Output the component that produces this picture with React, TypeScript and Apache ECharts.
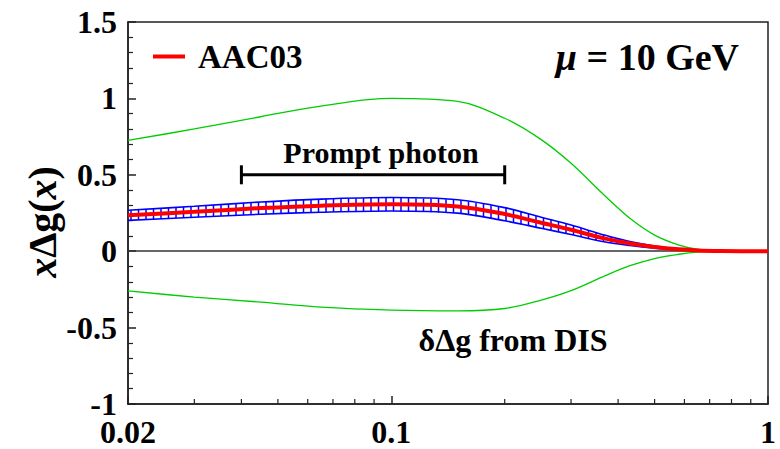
import React, { useEffect, useRef } from "react";
import * as echarts from "echarts";

const xValues = [0.02, 0.03, 0.045, 0.065, 0.1, 0.15, 0.2, 0.25, 0.3, 0.37, 0.43, 0.5, 0.58, 0.65, 0.75, 0.85, 1];
const aac03 = [0.235, 0.258, 0.282, 0.298, 0.307, 0.293, 0.243, 0.186, 0.14, 0.082, 0.05, 0.027, 0.012, 0.005, 0.001, 0, 0];
const bandUpper = [0.268, 0.294, 0.322, 0.341, 0.351, 0.337, 0.285, 0.222, 0.171, 0.104, 0.063, 0.034, 0.015, 0.006, 0.001, 0, 0];
const bandLower = [0.202, 0.222, 0.242, 0.255, 0.263, 0.249, 0.199, 0.15, 0.109, 0.06, 0.037, 0.02, 0.009, 0.004, 0.001, 0, 0];
const disUpper = [0.725, 0.8, 0.88, 0.95, 1.0, 0.98, 0.87, 0.73, 0.575, 0.36, 0.215, 0.105, 0.04, 0.014, 0.003, 0, 0];
const disLower = [-0.26, -0.3, -0.333, -0.366, -0.385, -0.39, -0.375, -0.32, -0.258, -0.16, -0.095, -0.048, -0.02, -0.006, -0.001, 0, 0];
const promptRange = [0.04, 0.2];
const promptLevel = 0.5;
const xMinorTicks = [0.03, 0.04, 0.05, 0.06, 0.07, 0.08, 0.09, 0.2, 0.3, 0.4, 0.5, 0.6, 0.7, 0.8, 0.9];

const FONT = "Liberation Serif";

export default function App() {
  const ref = useRef<HTMLDivElement>(null);
  useEffect(() => {
    if (!ref.current) return;
    const chart = echarts.init(ref.current, null, { renderer: "svg" });
    const pair = (ys: number[]) => xValues.map((x, i) => [x, ys[i]]);
    const bandData = xValues.map((x, i) => [x, bandLower[i], bandUpper[i]]);
    const HATCH = 7.5;
    const GRID_LEFT = 128;

    const option: any = {
      animation: false,
      backgroundColor: "#fff",
      grid: {
        left: 128,
        right: 12,
        top: 22,
        bottom: 45,
        show: true,
        borderColor: "#222",
        borderWidth: 1.5,
        containLabel: false,
      },
      legend: {
        data: ["AAC03"],
        left: 148,
        top: 35,
        icon: "rect",
        itemWidth: 32,
        itemHeight: 4,
        textStyle: {
          fontFamily: FONT,
          fontWeight: "bold",
          fontSize: 33,
          color: "#000",
          padding: [0, 0, 0, 8],
        },
      },
      xAxis: {
        type: "log",
        logBase: 10,
        min: 0.02,
        max: 1,
        axisLine: { onZero: false, lineStyle: { color: "#222", width: 1.5 } },
        axisTick: { inside: true, length: 8, lineStyle: { color: "#222", width: 1.5 } },
        axisLabel: {
          fontFamily: FONT,
          fontWeight: "bold",
          fontSize: 32,
          color: "#000",
          margin: 12,
          formatter: (v: number) => String(parseFloat(v.toPrecision(6))),
        },
        splitLine: { show: false },
      },
      yAxis: {
        type: "value",
        min: -1,
        max: 1.5,
        interval: 0.5,
        axisLine: { show: true, onZero: false, lineStyle: { color: "#222", width: 1.5 } },
        axisTick: { inside: true, length: 8, lineStyle: { color: "#222", width: 1.5 } },
        minorTick: { show: true, splitNumber: 5, length: 5, lineStyle: { color: "#222", width: 1.2 } },
        axisLabel: {
          fontFamily: FONT,
          fontWeight: "bold",
          fontSize: 32,
          color: "#000",
          margin: 11,
        },
        splitLine: { show: false },
      },
      graphic: [
        {
          type: "text",
          x: 42,
          y: 222,
          rotation: Math.PI / 2,
          style: {
            text: "{i|x}Δg({i|x})",
            fontFamily: FONT,
            fontWeight: "bold",
            fontSize: 40,
            fill: "#000",
            align: "center",
            verticalAlign: "middle",
            rich: {
              i: { fontFamily: FONT, fontWeight: "bold", fontStyle: "italic", fontSize: 40, fill: "#000" },
            },
          },
        },
        {
          type: "text",
          right: 41,
          top: 38,
          style: {
            text: "{i|μ} = 10 GeV",
            fontFamily: FONT,
            fontWeight: "bold",
            fontSize: 38,
            fill: "#000",
            rich: {
              i: { fontFamily: FONT, fontWeight: "bold", fontStyle: "italic", fontSize: 38, fill: "#000" },
            },
          },
        },
        {
          type: "text",
          x: 381,
          y: 152,
          style: {
            text: "Prompt photon",
            fontFamily: FONT,
            fontWeight: "bold",
            fontSize: 30,
            fill: "#000",
            align: "center",
            verticalAlign: "middle",
          },
        },
        {
          type: "text",
          x: 513,
          y: 340,
          style: {
            text: "δΔg from DIS",
            fontFamily: FONT,
            fontWeight: "bold",
            fontSize: 32,
            fill: "#000",
            align: "center",
            verticalAlign: "middle",
          },
        },
      ],
      series: [
        {
          name: "DIS lower",
          type: "line",
          data: pair(disLower),
          smooth: 0.35,
          showSymbol: false,
          lineStyle: { color: "#00cc00", width: 1.3 },
          z: 2,
          markLine: {
            silent: true,
            symbol: "none",
            label: { show: false },
            lineStyle: { color: "#333", width: 1.5, type: "solid" },
            data: [{ yAxis: 0 }],
          },
        },
        {
          name: "DIS upper",
          type: "line",
          data: pair(disUpper),
          smooth: 0.35,
          showSymbol: false,
          lineStyle: { color: "#00cc00", width: 1.3 },
          z: 2,
        },
        {
          name: "band hatch",
          type: "custom",
          data: bandData,
          z: 3,
          renderItem: (params: any, api: any) => {
            const i = params.dataIndex;
            if (i >= bandData.length - 1) return null;
            const nx = bandData[i + 1];
            const p0 = api.coord([api.value(0), api.value(2)]);
            const q0 = api.coord([api.value(0), api.value(1)]);
            const p1 = api.coord([nx[0], nx[2]]);
            const q1 = api.coord([nx[0], nx[1]]);
            const children: any[] = [];
            let k = Math.ceil((p0[0] - GRID_LEFT - 3) / HATCH);
            for (;; k++) {
              const px = GRID_LEFT + 3 + k * HATCH;
              if (px >= p1[0]) break;
              if (px < p0[0]) continue;
              const t = (px - p0[0]) / (p1[0] - p0[0]);
              const yt = p0[1] + (p1[1] - p0[1]) * t;
              const yb = q0[1] + (q1[1] - q0[1]) * t;
              if (yb - yt < 2.5) continue;
              children.push({
                type: "line",
                shape: { x1: px, y1: yt, x2: px, y2: yb },
                style: { stroke: "#0000ff", lineWidth: 1.5 },
              });
            }
            return { type: "group", children };
          },
        },
        {
          name: "band upper",
          type: "line",
          data: pair(bandUpper),
          smooth: 0.35,
          showSymbol: false,
          lineStyle: { color: "#0000ff", width: 1.6 },
          z: 3,
        },
        {
          name: "band lower",
          type: "line",
          data: pair(bandLower),
          smooth: 0.35,
          showSymbol: false,
          lineStyle: { color: "#0000ff", width: 1.6 },
          z: 3,
        },
        {
          name: "AAC03",
          type: "line",
          data: pair(aac03),
          smooth: 0.35,
          showSymbol: false,
          color: "#ff0000",
          lineStyle: { color: "#ff0000", width: 4 },
          z: 5,
        },
        {
          name: "prompt photon",
          type: "custom",
          data: [[promptRange[0], promptRange[1], promptLevel]],
          z: 4,
          renderItem: (params: any, api: any) => {
            const a = api.coord([api.value(0), api.value(2)]);
            const b = api.coord([api.value(1), api.value(2)]);
            const h = 9.5;
            const st = { stroke: "#000", lineWidth: 3 };
            return {
              type: "group",
              children: [
                { type: "line", shape: { x1: a[0], y1: a[1], x2: b[0], y2: b[1] }, style: st },
                { type: "line", shape: { x1: a[0], y1: a[1] - h, x2: a[0], y2: a[1] + h }, style: st },
                { type: "line", shape: { x1: b[0], y1: b[1] - h, x2: b[0], y2: b[1] + h }, style: st },
              ],
            };
          },
        },
        {
          name: "x minor ticks",
          type: "custom",
          data: xMinorTicks.map((v) => [v, -1]),
          clip: false,
          z: 6,
          renderItem: (params: any, api: any) => {
            const p = api.coord([api.value(0), api.value(1)]);
            return {
              type: "line",
              shape: { x1: p[0], y1: p[1], x2: p[0], y2: p[1] - 5 },
              style: { stroke: "#222", lineWidth: 1.2 },
            };
          },
        },
      ],
    };
    chart.setOption(option);
    return () => chart.dispose();
  }, []);
  return (
    <div
      ref={ref}
      style={{ position: "fixed", left: 0, top: 0, width: 780, height: 449, background: "#fff" }}
    />
  );
}
